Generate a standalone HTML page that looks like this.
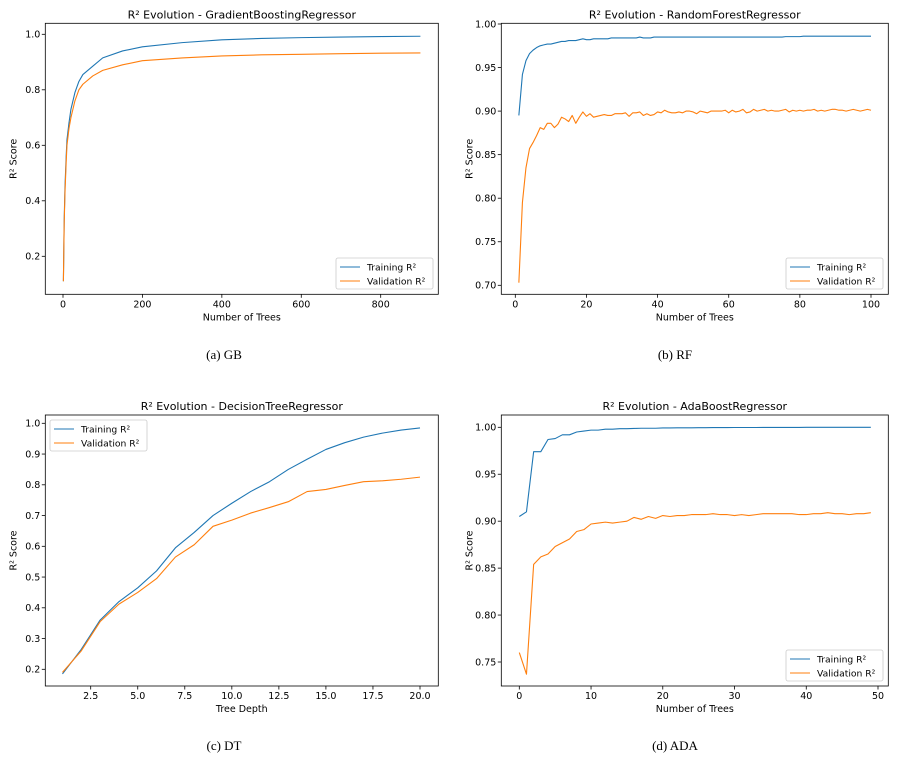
<!DOCTYPE html>
<html><head><meta charset="utf-8">
<style>
html,body{margin:0;padding:0;background:#fff;}
body{width:898px;height:764px;overflow:hidden;}
svg{display:block;font-family:"DejaVu Sans","Liberation Sans",sans-serif;}
.cap{font-family:"Liberation Serif",serif;font-size:13px;fill:#000;}
</style></head>
<body>
<svg id="fig" width="898" height="764" viewBox="0 0 898 764">
<text class="cap" x="224" y="359" text-anchor="middle">(a) GB</text>
<text class="cap" x="675" y="359" text-anchor="middle">(b) RF</text>
<text class="cap" x="224" y="750" text-anchor="middle">(c) DT</text>
<text class="cap" x="675" y="750" text-anchor="middle">(d) ADA</text>
</svg>
<script>
// ---- Chart (a) GB data ----
const gbX = [1,3,5,8,10,15,20,30,40,50,75,100,150,200,300,400,500,600,700,800,900];
const gbTrain = [0.11,0.33,0.45,0.56,0.62,0.68,0.73,0.79,0.83,0.855,0.885,0.915,0.94,0.955,0.97,0.98,0.985,0.988,0.99,0.992,0.993];
const gbVal = [0.11,0.32,0.43,0.54,0.60,0.66,0.70,0.76,0.80,0.82,0.85,0.87,0.89,0.905,0.915,0.922,0.926,0.928,0.930,0.932,0.933];
const gbXTicks = [0,200,400,600,800];
const gbYTicks = [0.2,0.4,0.6,0.8,1.0];
const gbYLabels = ["0.2","0.4","0.6","0.8","1.0"];

// ---- Chart (b) RF data ----
const rfTrain = [0.895,0.942,0.958,0.966,0.970,0.973,0.975,0.976,0.977,0.977,0.978,0.979,0.980,0.980,0.981,0.981,0.981,0.982,0.983,0.982,0.982,0.983,0.983,0.983,0.983,0.983,0.984,0.984,0.984,0.984,0.984,0.984,0.984,0.984,0.985,0.984,0.984,0.984,0.985,0.985,0.985,0.985,0.985,0.985,0.985,0.985,0.985,0.985,0.985,0.985,0.985,0.985,0.985,0.985,0.985,0.985,0.985,0.985,0.985,0.985,0.985,0.985,0.985,0.985,0.985,0.985,0.985,0.985,0.985,0.985,0.985,0.985,0.985,0.985,0.985,0.9855,0.9855,0.9855,0.9855,0.9855,0.986,0.986,0.986,0.986,0.986,0.986,0.986,0.986,0.986,0.986,0.986,0.986,0.986,0.986,0.986,0.986,0.986,0.986,0.986,0.986];
const rfVal = [0.703,0.795,0.835,0.857,0.864,0.872,0.881,0.879,0.886,0.886,0.881,0.885,0.893,0.891,0.888,0.895,0.886,0.893,0.899,0.894,0.897,0.893,0.894,0.895,0.896,0.895,0.895,0.897,0.897,0.897,0.898,0.894,0.898,0.898,0.899,0.895,0.897,0.895,0.896,0.899,0.898,0.901,0.899,0.898,0.898,0.899,0.898,0.900,0.900,0.899,0.897,0.900,0.899,0.898,0.900,0.900,0.900,0.900,0.901,0.898,0.901,0.899,0.900,0.902,0.898,0.899,0.902,0.900,0.901,0.902,0.900,0.901,0.900,0.900,0.901,0.902,0.899,0.901,0.900,0.901,0.900,0.901,0.901,0.902,0.900,0.901,0.900,0.901,0.902,0.902,0.901,0.901,0.900,0.901,0.902,0.901,0.900,0.901,0.902,0.901];
const rfXTicks = [0,20,40,60,80,100];
const rfYTicks = [0.70,0.75,0.80,0.85,0.90,0.95,1.00];
const rfYLabels = ["0.70","0.75","0.80","0.85","0.90","0.95","1.00"];

// ---- Chart (c) DT data ----
const dtX = [1,2,3,4,5,6,7,8,9,10,11,12,13,14,15,16,17,18,19,20];
const dtTrain = [0.185,0.265,0.36,0.42,0.465,0.52,0.595,0.645,0.70,0.74,0.778,0.81,0.85,0.883,0.915,0.937,0.955,0.968,0.978,0.985];
const dtVal = [0.19,0.26,0.355,0.412,0.45,0.495,0.565,0.605,0.665,0.685,0.708,0.726,0.745,0.778,0.785,0.798,0.81,0.813,0.818,0.825];
const dtXTicks = [2.5,5.0,7.5,10.0,12.5,15.0,17.5,20.0];
const dtXLabels = ["2.5","5.0","7.5","10.0","12.5","15.0","17.5","20.0"];
const dtYTicks = [0.2,0.3,0.4,0.5,0.6,0.7,0.8,0.9,1.0];
const dtYLabels = ["0.2","0.3","0.4","0.5","0.6","0.7","0.8","0.9","1.0"];

// ---- Chart (d) ADA data ----
const adaTrain = [0.905,0.910,0.974,0.974,0.987,0.988,0.992,0.992,0.995,0.996,0.997,0.997,0.998,0.998,0.9985,0.9985,0.9988,0.999,0.999,0.999,0.9993,0.9993,0.9994,0.9995,0.9995,0.9996,0.9996,0.9997,0.9997,0.9997,0.9998,0.9998,0.9998,0.9998,0.9999,0.9999,0.9999,0.9999,0.9999,0.9999,1.0,1.0,1.0,1.0,1.0,1.0,1.0,1.0,1.0,1.0];
const adaVal = [0.760,0.737,0.854,0.862,0.865,0.873,0.877,0.881,0.889,0.891,0.897,0.898,0.899,0.898,0.899,0.900,0.904,0.902,0.905,0.903,0.906,0.905,0.906,0.906,0.907,0.907,0.907,0.908,0.907,0.907,0.906,0.907,0.906,0.907,0.908,0.908,0.908,0.908,0.908,0.907,0.907,0.908,0.908,0.909,0.908,0.908,0.907,0.908,0.908,0.909];
const adaXTicks = [0,10,20,30,40,50];
const adaYTicks = [0.75,0.80,0.85,0.90,0.95,1.00];
const adaYLabels = ["0.75","0.80","0.85","0.90","0.95","1.00"];

const NS = "http://www.w3.org/2000/svg";
const fig = document.getElementById('fig');
function mk(tag, attrs, parent){
  const e = document.createElementNS(NS, tag);
  for (const k in attrs) e.setAttribute(k, attrs[k]);
  (parent||fig).appendChild(e);
  return e;
}
function seq(n, start){ const a=[]; for(let i=0;i<n;i++) a.push(start+i); return a; }

function chart(c){
  const g = mk('g', {});
  
  
  const sx = v => c.px0 + (v - c.x0) * (c.px1 - c.px0) / (c.x1 - c.x0);
  const sy = v => c.py0 + (v - c.y0) * (c.py1 - c.py0) / (c.y1 - c.y0);
  const t = mk('text', {x:(c.L+c.R)/2, y:c.T-5, 'text-anchor':'middle', 'font-size':'11', fill:'#000'}, g);
  t.textContent = c.title;
  
  
  const colors = ['#1f77b4', '#ff7f0e'];
  c.series.forEach((ys, si) => {
    const d = ys.map((v, i) => (i ? 'L' : 'M') + sx(c.xs[i]).toFixed(2) + ',' + sy(v).toFixed(2)).join(' ');
    const p = mk('path', {d:d, fill:'none', stroke:colors[si], 'stroke-width':'1.1', 'stroke-linejoin':'round'}, g);
    
    
  });
  const fr = mk('rect', {x:c.L, y:c.T, width:c.R-c.L, height:c.B-c.T, fill:'none', stroke:'#000', 'stroke-width':'0.8'}, g);
  
  
  c.xt.forEach((v, i) => {
    const x = sx(v);
    mk('line', {x1:x, x2:x, y1:c.B, y2:c.B+3.5, stroke:'#000', 'stroke-width':'0.8'}, g);
    const tl = mk('text', {x:x, y:c.B+13, 'text-anchor':'middle', 'font-size':'9.5', fill:'#000'}, g);
    tl.textContent = c.xl ? c.xl[i] : String(v);
    
    
  });
  c.yt.forEach((v, i) => {
    const y = sy(v);
    mk('line', {x1:c.L-3.5, x2:c.L, y1:y, y2:y, stroke:'#000', 'stroke-width':'0.8'}, g);
    const tl = mk('text', {x:c.L-5, y:y+3.4, 'text-anchor':'end', 'font-size':'9.5', fill:'#000'}, g);
    tl.textContent = c.yl[i];
    
    
  });
  const xt = mk('text', {x:(c.L+c.R)/2, y:c.B+26, 'text-anchor':'middle', 'font-size':'9.5', fill:'#000'}, g);
  xt.textContent = c.xlabel;
  
  
  const yc = (c.T+c.B)/2;
  const yx = c.L-29;
  const yt = mk('text', {x:yx, y:yc, 'text-anchor':'middle', 'font-size':'9.5', fill:'#000', transform:'rotate(-90 '+yx+' '+yc+')'}, g);
  yt.textContent = 'R² Score';
  
  
  const lg = mk('g', {}, g);
  
  
  mk('rect', {x:c.lx, y:c.ly, width:97, height:31, rx:2, fill:'#fff', 'fill-opacity':'0.8', stroke:'#ccc', 'stroke-width':'0.8'}, lg);
  ['Training R²', 'Validation R²'].forEach((s, i) => {
    const yy = c.ly + 9 + i*14;
    mk('line', {x1:c.lx+4, x2:c.lx+24, y1:yy, y2:yy, stroke:colors[i], 'stroke-width':'1.1'}, lg);
    const lt = mk('text', {x:c.lx+31, y:yy+3.3, 'font-size':'9.2', fill:'#000'}, lg);
    lt.textContent = s;
    
    
  });
}

chart({name:'chart-gb', title:'R² Evolution - GradientBoostingRegressor', L:45.3, R:438.3, T:23.3, B:294.3,
  x0:0, x1:800, px0:63, px1:380.7, y0:1.0, y1:0.2, py0:34.3, py1:256.3,
  xs:gbX, series:[gbTrain, gbVal], xt:gbXTicks, yt:gbYTicks, yl:gbYLabels, xlabel:'Number of Trees', lx:336, ly:258});

chart({name:'chart-rf', title:'R² Evolution - RandomForestRegressor', L:501.3, R:888.3, T:23.3, B:294.3,
  x0:0, x1:100, px0:515.3, px1:871, y0:1.0, y1:0.7, py0:24, py1:285.3,
  xs:seq(rfTrain.length, 1), series:[rfTrain, rfVal], xt:rfXTicks, yt:rfYTicks, yl:rfYLabels, xlabel:'Number of Trees', lx:786, ly:258});

chart({name:'chart-dt', title:'R² Evolution - DecisionTreeRegressor', L:45.3, R:438.3, T:415, B:686,
  x0:2.5, x1:20, px0:90.7, px1:420, y0:1.0, y1:0.2, py0:423.3, py1:669.3,
  xs:dtX, series:[dtTrain, dtVal], xt:dtXTicks, xl:dtXLabels, yt:dtYTicks, yl:dtYLabels, xlabel:'Tree Depth', lx:50, ly:420});

chart({name:'chart-ada', title:'R² Evolution - AdaBoostRegressor', L:501.3, R:888.3, T:415, B:686,
  x0:0, x1:50, px0:519.3, px1:878, y0:1.0, y1:0.75, py0:427.3, py1:662,
  xs:seq(adaTrain.length, 0), series:[adaTrain, adaVal], xt:adaXTicks, yt:adaYTicks, yl:adaYLabels, xlabel:'Number of Trees', lx:786, ly:650});
</script>
</body></html>
